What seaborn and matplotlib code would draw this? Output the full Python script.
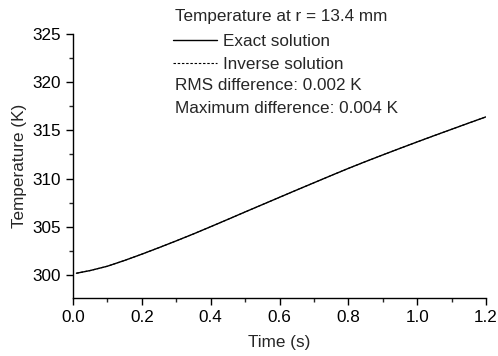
import matplotlib
matplotlib.use("Agg")
import matplotlib.pyplot as plt
import seaborn as sns
import pandas as pd
from matplotlib.ticker import MultipleLocator

## values
time_s = [0.01, 0.05, 0.1, 0.15, 0.2, 0.25, 0.3, 0.35, 0.4, 0.45, 0.5, 0.55, 0.6,
          0.65, 0.7, 0.75, 0.8, 0.85, 0.9, 0.95, 1.0, 1.05, 1.1, 1.15, 1.2]
exact_K = [300.17, 300.45, 300.9, 301.5, 302.15, 302.83, 303.53, 304.25, 305.0, 305.76,
           306.53, 307.29, 308.05, 308.81, 309.56, 310.31, 311.05, 311.76, 312.45, 313.13,
           313.8, 314.46, 315.11, 315.76, 316.4]
inverse_K = [300.17, 300.45, 300.9, 301.5, 302.15, 302.83, 303.53, 304.25, 305.0, 305.76,
             306.53, 307.29, 308.05, 308.81, 309.56, 310.31, 311.05, 311.76, 312.45, 313.13,
             313.8, 314.46, 315.11, 315.76, 316.4]

df = pd.DataFrame({"t": time_s, "exact": exact_K, "inverse": inverse_K})

sns.set_style("ticks")
plt.rcParams["font.family"] = ["Liberation Sans", "DejaVu Sans"]
fs = 12.3

fig = plt.figure(figsize=(4.98, 3.56), dpi=100)
ax = fig.add_axes([73/498, 58/356, 413/498, 264/356])

sns.lineplot(x="t", y="exact", data=df, ax=ax, color="black", lw=1.0, label="Exact solution")
sns.lineplot(x="t", y="inverse", data=df, ax=ax, color="black", lw=0.8,
             linestyle=(0, (2.2, 1.6)), label="Inverse solution")

ax.set_xlim(0, 1.2)
ax.set_ylim(297.6, 325)
ax.xaxis.set_minor_locator(MultipleLocator(0.1))
ax.yaxis.set_minor_locator(MultipleLocator(2.5))
ax.set_xticks([0, 0.2, 0.4, 0.6, 0.8, 1.0, 1.2])
ax.set_xticklabels(["0.0", "0.2", "0.4", "0.6", "0.8", "1.0", "1.2"])
ax.set_yticks([300, 305, 310, 315, 320, 325])
ax.tick_params(which="major", direction="out", length=5, width=1, labelsize=fs, colors="black")
ax.tick_params(which="minor", direction="out", length=3, width=1)
sns.despine(ax=ax)
for s in ["left", "bottom"]:
    ax.spines[s].set_linewidth(1)
    ax.spines[s].set_color("black")

ax.set_xlabel("Time (s)", fontsize=fs, labelpad=7)
ax.set_ylabel("Temperature (K)", fontsize=fs, labelpad=4)

h, l = ax.get_legend_handles_labels()
ax.get_legend().remove()
fig.legend(h, l, loc="upper left", bbox_to_anchor=(173/498, 1 - 33.5/356), frameon=False,
           fontsize=fs, handlelength=2.55, handletextpad=0.35, labelspacing=0.5,
           borderpad=0, borderaxespad=0)

fig.text(175/498, 1 - 16.5/356, "Temperature at r = 13.4 mm", fontsize=fs, va="center", ha="left")
fig.text(175/498, 1 - 85.5/356, "RMS difference: 0.002 K", fontsize=fs, va="center", ha="left")
fig.text(175/498, 1 - 108.5/356, "Maximum difference: 0.004 K", fontsize=fs, va="center", ha="left")

fig.savefig("out.png", dpi=100)
